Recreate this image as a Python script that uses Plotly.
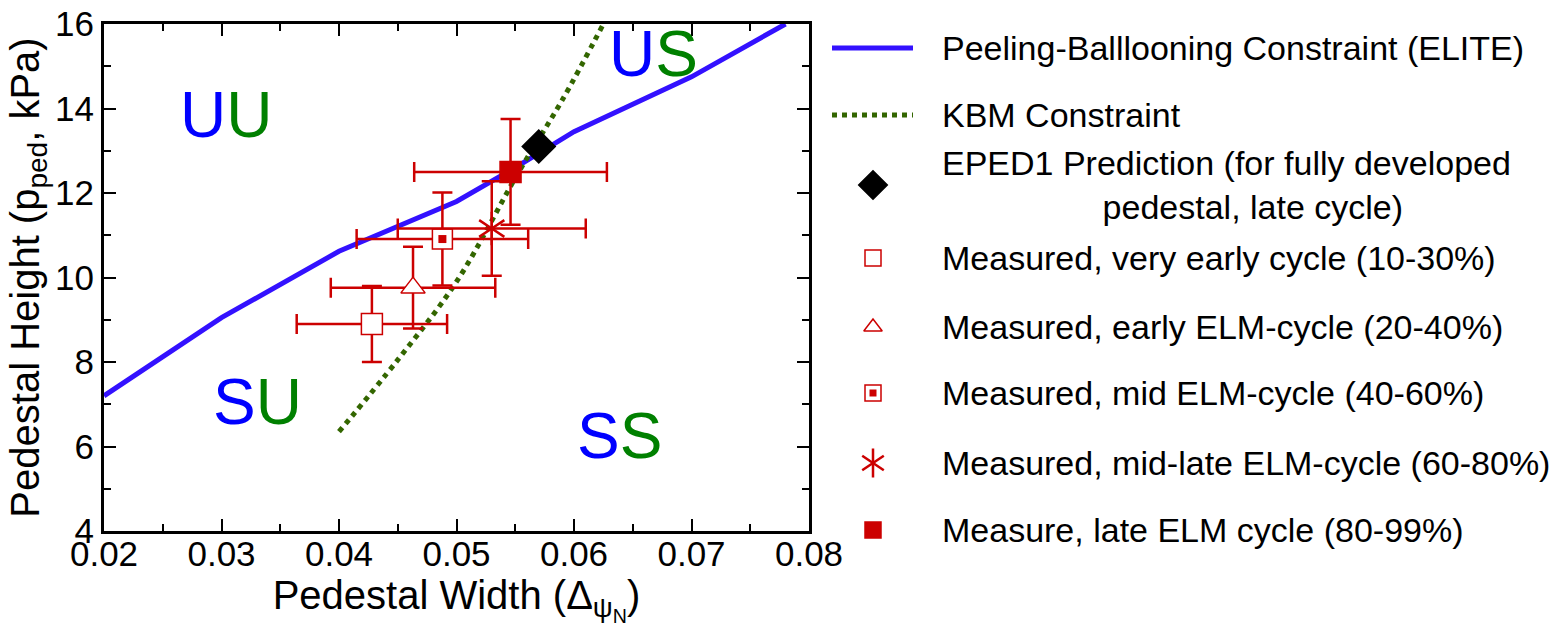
import plotly.graph_objects as go

# ---------------- data ----------------
pb_x = [0.02, 0.03, 0.04, 0.05, 0.055, 0.06, 0.07, 0.078]
pb_y = [7.2, 9.05, 10.62, 11.8, 12.6, 13.45, 14.75, 16.0]

kbm_x = [0.040, 0.045, 0.050, 0.0553, 0.059, 0.0625]
kbm_y = [6.35, 8.05, 9.9, 12.5, 14.2, 16.0]

eped_x = [0.0570]
eped_y = [13.10]

meas_names = [
    "Measured, very early cycle (10-30%)",
    "Measured, early ELM-cycle (20-40%)",
    "Measured, mid ELM-cycle (40-60%)",
    "Measured, mid-late ELM-cycle (60-80%)",
    "Measure, late ELM cycle (80-99%)",
]
meas_x = [0.0428, 0.0463, 0.0488, 0.0530, 0.0546]
meas_y = [8.90, 9.76, 10.91, 11.16, 12.50]
meas_xerr = [0.0064, 0.0070, 0.0073, 0.0080, 0.0082]
meas_yerr = [0.90, 0.97, 1.10, 1.12, 1.25]

legend_labels = [
    "Peeling-Balllooning Constraint (ELITE)",
    "KBM Constraint",
    "EPED1 Prediction (for fully developed<br>" + "\u00a0" * 17 + "pedestal, late cycle)",
] + meas_names

region_labels = [("U", "U"), ("U", "S"), ("S", "U"), ("S", "S")]
region_x = [0.0304, 0.0668, 0.0331, 0.0639]
region_y = [13.85, 15.30, 7.06, 6.24]

x_ticks = [0.02, 0.03, 0.04, 0.05, 0.06, 0.07, 0.08]
y_ticks = [4, 6, 8, 10, 12, 14, 16]

# ---------------- style ----------------
W, H = 1562, 632
L, R, T, B = 104, 809, 24, 531
RM = 10
PW = W - L - RM
FONT = "Liberation Sans, Arial, Helvetica, sans-serif"
RED = "#cc0000"
BLUE = "#3311ff"
KGREEN = "#336600"
LEG_X0 = 820


def px(x):
    return (x - L) / PW


def py(y):
    return (B - y) / (B - T)


fig = go.Figure()

fig.add_trace(go.Scatter(x=pb_x, y=pb_y, mode="lines",
                         line=dict(color=BLUE, width=5), showlegend=False))
fig.add_trace(go.Scatter(x=kbm_x, y=kbm_y, mode="lines",
                         line=dict(color=KGREEN, width=5, dash="dot", shape="spline"),
                         showlegend=False))

sym = ["square", "triangle-up", "square", "y-up-open", "square"]
fill = ["white", "white", "white", RED, RED]
size = [21, 21, 20, 21, 21]
for i in range(len(meas_x)):
    fig.add_trace(go.Scatter(
        x=[meas_x[i]], y=[meas_y[i]], mode="markers",
        marker=dict(symbol=sym[i], size=size[i], color=fill[i],
                    line=dict(color=RED, width=2.5 if i == 3 else 1.5)),
        error_x=dict(type="data", array=[meas_xerr[i]], color=RED, thickness=2.5, width=10),
        error_y=dict(type="data", array=[meas_yerr[i]], color=RED, thickness=2.5, width=10),
        showlegend=False))
    if i == 2:
        fig.add_trace(go.Scatter(x=[meas_x[i]], y=[meas_y[i]], mode="markers",
                                 marker=dict(symbol="square", size=8, color=RED),
                                 showlegend=False))
    if i == 3:
        fig.add_trace(go.Scatter(x=[meas_x[i]], y=[meas_y[i]], mode="markers",
                                 marker=dict(symbol="y-down-open", size=21, color=RED,
                                             line=dict(color=RED, width=2.5)),
                                 showlegend=False))

fig.add_trace(go.Scatter(x=eped_x, y=eped_y, mode="markers",
                         marker=dict(symbol="diamond", size=27, color="black"),
                         showlegend=False))

# region labels
ann = []
for (a, b), xx, yy in zip(region_labels, region_x, region_y):
    ann.append(dict(x=xx, y=yy, xref="x", yref="y", showarrow=False,
                    text=f"<span style='color:#0000ff'>{a}</span><span style='color:#008000'>{b}</span>",
                    font=dict(family=FONT, size=64)))

# ---------------- manual legend ----------------
row_y = [48, 115, 185, 258, 327, 393, 463, 530]
sym_x = 873
text_x = 940
shapes = [
    dict(type="line", xref="paper", yref="paper", x0=px(832), x1=px(913),
         y0=py(row_y[0]), y1=py(row_y[0]), line=dict(color=BLUE, width=5)),
    dict(type="line", xref="paper", yref="paper", x0=px(832), x1=px(913),
         y0=py(row_y[1]), y1=py(row_y[1]), line=dict(color=KGREEN, width=5, dash="dot")),
]
for lab, yy in zip(legend_labels, row_y):
    ann.append(dict(x=px(text_x), y=py(yy), xref="paper", yref="paper", showarrow=False,
                    xanchor="left", yanchor="middle", align="left", text=lab,
                    font=dict(family=FONT, size=34, color="black")))

leg_sym = ["diamond", "square", "triangle-up", "square", "y-up-open", "square"]
leg_fill = ["black", "white", "white", "white", RED, RED]
leg_size = [22, 16, 16, 16, 18, 16]
for s, f, sz, yy in zip(leg_sym, leg_fill, leg_size, row_y[2:]):
    fig.add_trace(go.Scatter(x=[sym_x], y=[yy], xaxis="x2", yaxis="y2", mode="markers",
                             cliponaxis=False,
                             marker=dict(symbol=s, size=sz, color=f,
                                         line=dict(color="black" if s == "diamond" else RED,
                                                   width=2.5 if "open" in s else 1.5)),
                             showlegend=False, hoverinfo="skip"))
fig.add_trace(go.Scatter(x=[sym_x], y=[row_y[5]], xaxis="x2", yaxis="y2", mode="markers",
                         cliponaxis=False, marker=dict(symbol="square", size=7, color=RED),
                         showlegend=False, hoverinfo="skip"))
fig.add_trace(go.Scatter(x=[sym_x], y=[row_y[6]], xaxis="x2", yaxis="y2", mode="markers",
                         cliponaxis=False,
                         marker=dict(symbol="y-down-open", size=18, color=RED,
                                     line=dict(color=RED, width=2.5)),
                         showlegend=False, hoverinfo="skip"))

axis_common = dict(showline=True, linewidth=3, linecolor="black", mirror="ticks",
                   ticks="inside", ticklen=12, tickwidth=2, tickcolor="black",
                   showgrid=False, zeroline=False, automargin=False,
                   tickfont=dict(family=FONT, size=35, color="black"))

fig.update_layout(
    width=W, height=H,
    margin=dict(l=L, r=RM, t=T, b=H - B),
    plot_bgcolor="white", paper_bgcolor="white",
    showlegend=False,
    xaxis=dict(domain=[0, (R - L) / PW], range=[0.02, 0.08], tickvals=x_ticks,
               tickformat=".2f", ticklabelstandoff=-10,
               minor=dict(dtick=0.005, tick0=0.02, ticks="inside", ticklen=7, tickwidth=2,
                          tickcolor="black"),
               title=dict(text="Pedestal Width (\u0394<sub>\u03c8<sub>N</sub></sub>)",
                          font=dict(family=FONT, size=40, color="black"), standoff=4),
               **axis_common),
    yaxis=dict(range=[4, 16], tickvals=y_ticks,
               minor=dict(dtick=1, tick0=4, ticks="inside", ticklen=7, tickwidth=2,
                          tickcolor="black"),
               title=dict(text="Pedestal Height (p<sub>ped</sub>, kPa)",
                          font=dict(family=FONT, size=40, color="black"), standoff=4),
               **axis_common),
    xaxis2=dict(domain=[(LEG_X0 - L) / PW, 1], range=[LEG_X0, W - RM], anchor="y2",
                visible=False, fixedrange=True, automargin=False),
    yaxis2=dict(domain=[0, 1], range=[B, T], anchor="x2", visible=False, fixedrange=True,
                automargin=False),
    annotations=ann,
    shapes=shapes,
)

fig.write_html("out.html")
